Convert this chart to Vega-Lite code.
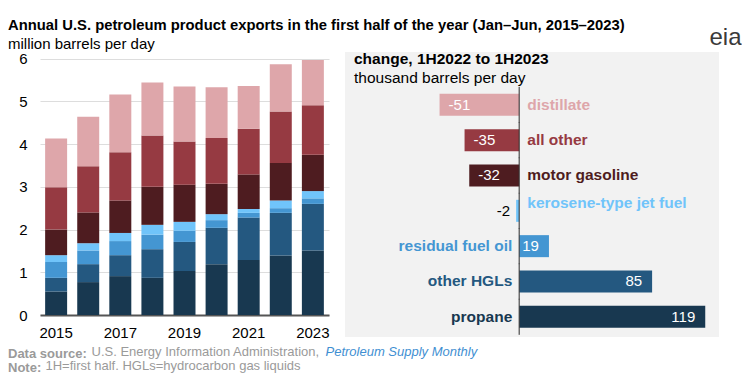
{
  "$schema": "https://vega.github.io/schema/vega-lite/v6.json",
  "background": "white",
  "padding": {"left": 8, "top": 18, "right": 0, "bottom": 0},
  "bounds": "flush",
  "spacing": 16,
  "config": {"font": "Liberation Sans", "view": {"stroke": null}},
  "title": {
    "text": "Annual U.S. petroleum product exports in the first half of the year (Jan\u2013Jun, 2015\u20132023)",
    "subtitle": "million barrels per day",
    "anchor": "start",
    "frame": "group",
    "dx": -32,
    "fontSize": 14.8,
    "fontWeight": "bold",
    "color": "#000000",
    "subtitleFontSize": 15,
    "subtitleColor": "#000000",
    "subtitlePadding": 4,
    "offset": -27
  },
  "datasets": {
    "exports": [
      {"year": "2015", "product": "propane", "k": 1, "value": 0.55},
      {"year": "2015", "product": "other HGLs", "k": 2, "value": 0.32},
      {"year": "2015", "product": "residual fuel oil", "k": 3, "value": 0.37},
      {"year": "2015", "product": "kerosene-type jet fuel", "k": 4, "value": 0.16},
      {"year": "2015", "product": "motor gasoline", "k": 5, "value": 0.60},
      {"year": "2015", "product": "all other", "k": 6, "value": 0.99},
      {"year": "2015", "product": "distillate", "k": 7, "value": 1.14},
      {"year": "2016", "product": "propane", "k": 1, "value": 0.77},
      {"year": "2016", "product": "other HGLs", "k": 2, "value": 0.42},
      {"year": "2016", "product": "residual fuel oil", "k": 3, "value": 0.32},
      {"year": "2016", "product": "kerosene-type jet fuel", "k": 4, "value": 0.17},
      {"year": "2016", "product": "motor gasoline", "k": 5, "value": 0.72},
      {"year": "2016", "product": "all other", "k": 6, "value": 1.08},
      {"year": "2016", "product": "distillate", "k": 7, "value": 1.16},
      {"year": "2017", "product": "propane", "k": 1, "value": 0.91},
      {"year": "2017", "product": "other HGLs", "k": 2, "value": 0.49},
      {"year": "2017", "product": "residual fuel oil", "k": 3, "value": 0.33},
      {"year": "2017", "product": "kerosene-type jet fuel", "k": 4, "value": 0.19},
      {"year": "2017", "product": "motor gasoline", "k": 5, "value": 0.76},
      {"year": "2017", "product": "all other", "k": 6, "value": 1.13},
      {"year": "2017", "product": "distillate", "k": 7, "value": 1.35},
      {"year": "2018", "product": "propane", "k": 1, "value": 0.87},
      {"year": "2018", "product": "other HGLs", "k": 2, "value": 0.67},
      {"year": "2018", "product": "residual fuel oil", "k": 3, "value": 0.34},
      {"year": "2018", "product": "kerosene-type jet fuel", "k": 4, "value": 0.23},
      {"year": "2018", "product": "motor gasoline", "k": 5, "value": 0.89},
      {"year": "2018", "product": "all other", "k": 6, "value": 1.20},
      {"year": "2018", "product": "distillate", "k": 7, "value": 1.24},
      {"year": "2019", "product": "propane", "k": 1, "value": 1.03},
      {"year": "2019", "product": "other HGLs", "k": 2, "value": 0.68},
      {"year": "2019", "product": "residual fuel oil", "k": 3, "value": 0.26},
      {"year": "2019", "product": "kerosene-type jet fuel", "k": 4, "value": 0.21},
      {"year": "2019", "product": "motor gasoline", "k": 5, "value": 0.87},
      {"year": "2019", "product": "all other", "k": 6, "value": 1.01},
      {"year": "2019", "product": "distillate", "k": 7, "value": 1.29},
      {"year": "2020", "product": "propane", "k": 1, "value": 1.19},
      {"year": "2020", "product": "other HGLs", "k": 2, "value": 0.85},
      {"year": "2020", "product": "residual fuel oil", "k": 3, "value": 0.18},
      {"year": "2020", "product": "kerosene-type jet fuel", "k": 4, "value": 0.14},
      {"year": "2020", "product": "motor gasoline", "k": 5, "value": 0.71},
      {"year": "2020", "product": "all other", "k": 6, "value": 1.07},
      {"year": "2020", "product": "distillate", "k": 7, "value": 1.19},
      {"year": "2021", "product": "propane", "k": 1, "value": 1.29},
      {"year": "2021", "product": "other HGLs", "k": 2, "value": 0.99},
      {"year": "2021", "product": "residual fuel oil", "k": 3, "value": 0.11},
      {"year": "2021", "product": "kerosene-type jet fuel", "k": 4, "value": 0.09},
      {"year": "2021", "product": "motor gasoline", "k": 5, "value": 0.81},
      {"year": "2021", "product": "all other", "k": 6, "value": 1.07},
      {"year": "2021", "product": "distillate", "k": 7, "value": 1.00},
      {"year": "2022", "product": "propane", "k": 1, "value": 1.39},
      {"year": "2022", "product": "other HGLs", "k": 2, "value": 1.00},
      {"year": "2022", "product": "residual fuel oil", "k": 3, "value": 0.11},
      {"year": "2022", "product": "kerosene-type jet fuel", "k": 4, "value": 0.18},
      {"year": "2022", "product": "motor gasoline", "k": 5, "value": 0.88},
      {"year": "2022", "product": "all other", "k": 6, "value": 1.20},
      {"year": "2022", "product": "distillate", "k": 7, "value": 1.11},
      {"year": "2023", "product": "propane", "k": 1, "value": 1.51},
      {"year": "2023", "product": "other HGLs", "k": 2, "value": 1.09},
      {"year": "2023", "product": "residual fuel oil", "k": 3, "value": 0.13},
      {"year": "2023", "product": "kerosene-type jet fuel", "k": 4, "value": 0.17},
      {"year": "2023", "product": "motor gasoline", "k": 5, "value": 0.85},
      {"year": "2023", "product": "all other", "k": 6, "value": 1.16},
      {"year": "2023", "product": "distillate", "k": 7, "value": 1.06}
    ],
    "change": [
      {"product": "distillate", "change": -51},
      {"product": "all other", "change": -35},
      {"product": "motor gasoline", "change": -32},
      {"product": "kerosene-type jet fuel", "change": -2},
      {"product": "residual fuel oil", "change": 19},
      {"product": "other HGLs", "change": 85},
      {"product": "propane", "change": 119}
    ]
  },
  "hconcat": [
    {
      "width": 289,
      "height": 263,
      "data": {"name": "exports"},
      "title": {
        "text": "Data source:",
        "subtitle": "Note:",
        "orient": "bottom",
        "anchor": "start",
        "frame": "group",
        "dx": -32,
        "offset": -24,
        "fontSize": 13,
        "fontWeight": "bold",
        "color": "#9a9a9a",
        "subtitleFontSize": 13,
        "subtitleFontWeight": "bold",
        "subtitleColor": "#9a9a9a",
        "subtitlePadding": 1
      },
      "mark": {"type": "bar"},
      "encoding": {
        "x": {
          "field": "year",
          "type": "ordinal",
          "scale": {"paddingInner": 0.315, "paddingOuter": 0.16},
          "axis": {
            "labelExpr": "toNumber(datum.value) % 2 == 1 ? datum.label : ''",
            "labelAngle": 0,
            "labelFontSize": 15,
            "labelColor": "#000000",
            "labelPadding": 10,
            "ticks": false,
            "domain": true,
            "domainColor": "#555555",
            "domainWidth": 2,
            "title": "U.S. Energy Information Administration,",
            "titleX": 51,
            "titleY": 40,
            "titleAlign": "left",
            "titleAnchor": "start",
            "titleBaseline": "alphabetic",
            "titleFontSize": 13,
            "titleFontWeight": "normal",
            "titleColor": "#9a9a9a"
          }
        },
        "y": {
          "field": "value",
          "type": "quantitative",
          "stack": "zero",
          "scale": {"domain": [0, 6.155], "nice": false},
          "axis": {
            "values": [0, 1, 2, 3, 4, 5, 6],
            "grid": true,
            "gridColor": "#dddddd",
            "domain": false,
            "ticks": false,
            "labelFontSize": 15,
            "labelColor": "#000000",
            "labelPadding": 13,
            "title": "1H=first half. HGLs=hydrocarbon gas liquids",
            "titleAngle": 0,
            "titleX": 5,
            "titleY": 317,
            "titleAlign": "left",
            "titleBaseline": "alphabetic",
            "titleFontSize": 13,
            "titleFontWeight": "normal",
            "titleColor": "#9a9a9a"
          }
        },
        "color": {
          "field": "product",
          "type": "nominal",
          "scale": {
            "domain": ["propane", "other HGLs", "residual fuel oil", "kerosene-type jet fuel", "motor gasoline", "all other", "distillate"],
            "range": ["#183850", "#245880", "#4496d2", "#70c4fa", "#4e1c20", "#963a42", "#dea6aa"]
          },
          "legend": null
        },
        "order": {"field": "k", "type": "quantitative", "sort": "ascending"}
      }
    },
    {
      "width": 374,
      "height": 285,
      "view": {"fill": "#f2f2f2", "stroke": null},
      "data": {"name": "change"},
      "title": {
        "text": "change, 1H2022 to 1H2023",
        "subtitle": "thousand barrels per day",
        "anchor": "start",
        "frame": "group",
        "orient": "top",
        "offset": -61,
        "dx": 9,
        "fontSize": 15.5,
        "fontWeight": "bold",
        "color": "#000000",
        "subtitleFontSize": 15.5,
        "subtitleColor": "#000000",
        "subtitlePadding": 3
      },
      "encoding": {
        "y": {
          "field": "product",
          "type": "nominal",
          "sort": null,
          "scale": {"paddingInner": 0.377, "paddingOuter": 0.722, "align": 0.82},
          "axis": {
            "orient": "right",
            "labels": false,
            "ticks": false,
            "domain": false,
            "grid": false,
            "title": "eia",
            "titleAngle": 0,
            "titleX": -10,
            "titleY": -8,
            "titleAlign": "left",
            "titleBaseline": "alphabetic",
            "titleFontSize": 24,
            "titleFontWeight": "normal",
            "titleColor": "#3a3a3a"
          }
        },
        "x": {
          "field": "change",
          "type": "quantitative",
          "scale": {"domain": [-111.5, 127.8], "nice": false, "zero": false},
          "axis": {
            "labels": false,
            "ticks": false,
            "domain": false,
            "grid": false,
            "title": "Petroleum Supply Monthly",
            "titleX": -20,
            "titleY": 18,
            "titleAlign": "left",
            "titleAnchor": "start",
            "titleBaseline": "alphabetic",
            "titleFontSize": 13,
            "titleFontWeight": "normal",
            "titleFontStyle": "italic",
            "titleColor": "#3f8fd2"
          }
        },
        "color": {
          "field": "product",
          "type": "nominal",
          "scale": {
            "domain": ["propane", "other HGLs", "residual fuel oil", "kerosene-type jet fuel", "motor gasoline", "all other", "distillate"],
            "range": ["#183850", "#245880", "#4496d2", "#70c4fa", "#4e1c20", "#963a42", "#dea6aa"]
          },
          "legend": null
        }
      },
      "layer": [
        {"mark": {"type": "bar"}},
        {
          "mark": {"type": "tick", "thickness": 1.5, "size": 36, "color": "#333333"},
          "encoding": {"x": {"datum": 0, "type": "quantitative"}, "color": {"value": "#333333"}}
        },
        {
          "transform": [{"filter": "datum.change < -10"}],
          "mark": {"type": "text", "align": "left", "baseline": "middle", "dx": 9, "fontSize": 15},
          "encoding": {"text": {"field": "change", "type": "nominal"}, "color": {"value": "white"}}
        },
        {
          "transform": [{"filter": "datum.change < 0 && datum.change > -10"}],
          "mark": {"type": "text", "align": "right", "baseline": "middle", "dx": -6, "fontSize": 15},
          "encoding": {"text": {"field": "change", "type": "nominal"}, "color": {"value": "#000000"}}
        },
        {
          "transform": [{"filter": "datum.change > 0"}],
          "mark": {"type": "text", "align": "right", "baseline": "middle", "dx": -10, "fontSize": 15},
          "encoding": {"text": {"field": "change", "type": "nominal"}, "color": {"value": "white"}}
        },
        {
          "transform": [{"filter": "datum.change < -10"}],
          "mark": {"type": "text", "align": "left", "baseline": "middle", "dx": 8, "fontSize": 15.5, "fontWeight": "bold"},
          "encoding": {"x": {"datum": 0, "type": "quantitative"}, "text": {"field": "product", "type": "nominal"}}
        },
        {
          "transform": [{"filter": "datum.change < 0 && datum.change > -10"}],
          "mark": {"type": "text", "align": "left", "baseline": "middle", "dx": 8, "dy": -8, "fontSize": 15.5, "fontWeight": "bold"},
          "encoding": {"x": {"datum": 0, "type": "quantitative"}, "text": {"field": "product", "type": "nominal"}}
        },
        {
          "transform": [{"filter": "datum.change > 0"}],
          "mark": {"type": "text", "align": "right", "baseline": "middle", "dx": -7, "fontSize": 15.5, "fontWeight": "bold"},
          "encoding": {"x": {"datum": 0, "type": "quantitative"}, "text": {"field": "product", "type": "nominal"}}
        }
      ]
    }
  ]
}
